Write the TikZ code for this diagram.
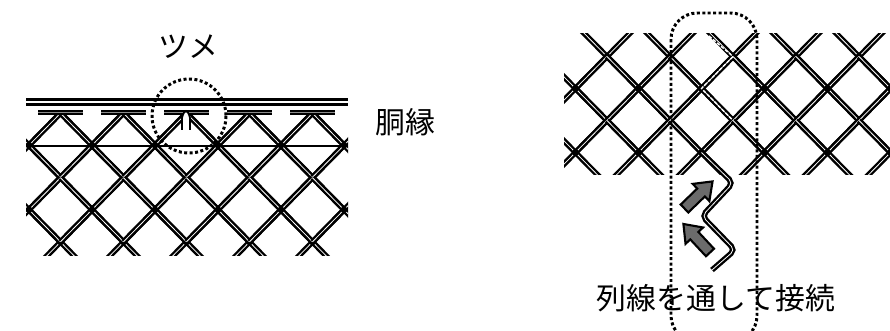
\documentclass[tikz,border=0pt]{standalone}
\usepackage{fontspec}
\newfontfamily\jpfont{Noto Sans CJK JP}
\newcommand{\netrow}[2]{
	\foreach \x in {#2}{
		\draw [wire] (\x-31.5,#1-32)--(\x+31.5,#1+32);
		\draw [wire] (\x-31.5,#1+32)--(\x+31.5,#1-32);
		\fill (\x,#1) circle (3.4);
	}
}
\newcommand{\blockarrow}[3]{
	\begin{scope}[shift={(#1,#2)}, rotate = #3]
		\draw [line width=1.2pt,fill=black!58] (0,-5.5)--(23,-5.5)--(23,-12)--(39,0)--(23,12)--(23,5.5)--(0,5.5) -- cycle;
	\end{scope}
}
\tikzset{
	wire/.style={double=white,double distance=.45pt,line width=1.35pt},
	dots/.style={line width=1.7pt,dash pattern=on 1.7pt off 1.4pt},
	label/.style={inner sep=0pt}
}
\begin{document}
\begin{tikzpicture}[x=.02cm,y=-.02cm]
\useasboundingbox (0,0) rectangle (890,331);
% left net
\begin{scope}
	\clip (26,113) rectangle (348,255);
	\foreach \y in {113,177.5,242}{ \netrow{\y}{60.5,123.5,186.5,249.5,312.5} }
	\foreach \y in {145.25,209.75}{ \netrow{\y}{29,92,155,218,281,344} }
\end{scope}
\draw [line width=1.4pt] (26,146)--(348,146);
\draw [line width=1.5pt] (26,99.5)--(348,99.5);
\draw [line width=1.5pt] (26,104.5)--(348,104.5);
\foreach \x in {60.5,123.5,186.5,249.5,312.5}{
	\draw [line width=1.4pt,double=black!45,double distance=.6pt] (\x-22.5,112.5)--(\x+22.5,112.5);
}
% claw
\draw [line width=1pt,fill=white] (182,130)--(182,118) .. controls (183,113) and (185,111) .. (186,111) .. controls (187,111) and (189,113) .. (190,118)--(190,130);
\draw [dots] (189,116) circle (37);
\node [label,font=\jpfont\fontsize{17}{17}\selectfont] (tsume) at (188.5,47) {ツメ};
\node [label,font=\jpfont\fontsize{17}{17}\selectfont] (dobuchi) at (405,122) {胴縁};
% right net
\begin{scope}
	\clip (564,34) rectangle (890,175);
	\foreach \y in {56.5,120.5}{ \netrow{\y}{607,670,733,796,859} }
	\foreach \y in {88.5,152.5}{ \netrow{\y}{575.5,638.5,701.5,764.5,827.5,890.5} }
\end{scope}
% replaced wire
\draw [white,line width=.8pt,dash pattern=on 2pt off 1pt] (709,36)--(733,56.5)--(701.5,88.5)--(733,120.5);
\draw [wire,rounded corners=3] (701.5,152.5)--(733,183)--(702,216)--(735,250)--(712,270);
\blockarrow{684.5}{208.5}{44}
\blockarrow{710}{252.5}{133}
% dotted frame
\begin{scope}
	\clip (0,0) rectangle (890,331);
	\draw [dots,rounded corners=15] (671,13) rectangle (757,342);
\end{scope}
\node [label,font=\jpfont\fontsize{17}{17}\selectfont] (retsusen) at (716,298) {列線を通して接続};
\end{tikzpicture}
\end{document}
